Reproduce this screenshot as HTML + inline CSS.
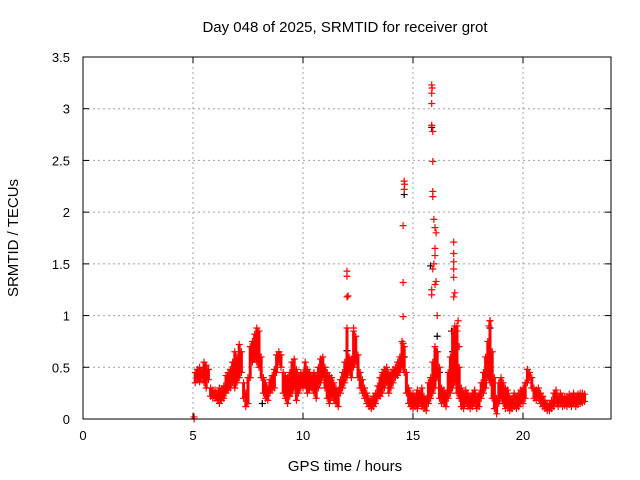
<!DOCTYPE html>
<html><head><meta charset="utf-8"><style>
body{margin:0;background:#fff;}
svg{display:block;font-family:"Liberation Sans",sans-serif;}
</style></head><body>
<svg id="chart" width="640" height="480" viewBox="0 0 640 480">
<rect width="640" height="480" fill="#fff"/>
<text x="345" y="32" font-size="15" text-anchor="middle">Day 048 of 2025, SRMTID for receiver grot</text>
<text x="345" y="471" font-size="15" text-anchor="middle">GPS time / hours</text>
<text transform="translate(18,238) rotate(-90)" font-size="15" text-anchor="middle">SRMTID / TECUs</text>
<g id="grid"></g><g id="marks"></g><g id="axes"></g>
</svg>
<script>
const xTicks=[0,5,10,15,20];
const yTicks=[0,0.5,1,1.5,2,2.5,3,3.5];
const yTickLabels=["0","0.5","1","1.5","2","2.5","3","3.5"];
const times=[5.1,5.2,5.3,5.4,5.5,5.6,5.7,5.8,5.9,
6.0,6.1,6.2,6.3,6.4,6.5,6.6,6.7,6.8,6.9,
7.0,7.1,7.2,7.3,7.4,7.5,7.6,7.7,7.8,7.9,
8.0,8.1,8.2,8.3,8.4,8.5,8.6,8.7,8.8,8.9,
9.0,9.1,9.2,9.3,9.4,9.5,9.6,9.7,9.8,9.9,
10.0,10.1,10.2,10.3,10.4,10.5,10.6,10.7,10.8,10.9,
11.0,11.1,11.2,11.3,11.4,11.5,11.6,11.7,11.8,11.9,
12.0,12.1,12.2,12.3,12.4,12.5,12.6,12.7,12.8,12.9,
13.0,13.1,13.2,13.3,13.4,13.5,13.6,13.7,13.8,13.9,
14.0,14.1,14.2,14.3,14.4,14.5,14.6,14.7,14.8,14.9,
15.0,15.1,15.2,15.3,15.4,15.5,15.6,15.7,15.8,15.9,
16.0,16.1,16.2,16.3,16.4,16.5,16.6,16.7,16.8,16.9,
17.0,17.1,17.2,17.3,17.4,17.5,17.6,17.7,17.8,17.9,
18.0,18.1,18.2,18.3,18.4,18.5,18.6,18.7,18.8,18.9,
19.0,19.1,19.2,19.3,19.4,19.5,19.6,19.7,19.8,19.9,
20.0,20.1,20.2,20.3,20.4,20.5,20.6,20.7,20.8,20.9,
21.0,21.1,21.2,21.3,21.4,21.5,21.6,21.7,21.8,21.9,
22.0,22.1,22.2,22.3,22.4,22.5,22.6,22.7,22.8];
const lowValues=[.35,.38,.36,.40,.35,.30,.38,.22,.20,
.20,.18,.15,.18,.20,.25,.28,.30,.35,.30,
.35,.40,.45,.20,.12,.15,.40,.55,.58,.55,
.50,.40,.25,.20,.18,.25,.28,.30,.45,.55,
.50,.25,.20,.15,.22,.25,.30,.18,.25,.30,
.30,.32,.25,.28,.30,.25,.20,.30,.35,.40,
.30,.20,.15,.22,.18,.15,.12,.25,.30,.35,
.40,.45,.40,.50,.55,.40,.30,.25,.20,.15,
.12,.10,.12,.15,.20,.22,.25,.30,.35,.25,
.30,.35,.40,.42,.45,.50,.45,.25,.15,.12,
.10,.12,.10,.15,.12,.10,.08,.15,.20,.25,
.30,.40,.20,.15,.15,.12,.20,.25,.30,.35,
.25,.20,.12,.10,.15,.12,.10,.12,.15,.10,
.12,.20,.25,.30,.40,.35,.20,.10,.05,.15,
.20,.15,.10,.12,.08,.10,.12,.10,.12,.15,
.15,.20,.35,.40,.30,.20,.18,.20,.15,.12,
.10,.08,.08,.10,.12,.15,.12,.15,.12,.13,
.12,.14,.12,.15,.12,.14,.15,.16,.17];
const highValues=[.45,.48,.50,.47,.55,.52,.48,.30,.28,
.28,.25,.30,.28,.32,.42,.45,.48,.55,.65,
.60,.72,.65,.35,.25,.40,.70,.75,.82,.88,
.85,.60,.40,.35,.30,.38,.42,.48,.62,.65,
.62,.45,.42,.40,.45,.55,.58,.48,.42,.45,
.45,.55,.48,.45,.42,.45,.42,.50,.58,.60,
.50,.45,.42,.40,.35,.30,.28,.38,.45,.55,
.88,.60,.58,.85,.80,.62,.45,.38,.30,.25,
.20,.18,.22,.25,.32,.40,.45,.48,.50,.45,
.45,.48,.50,.55,.60,.75,.70,.45,.30,.25,
.25,.22,.28,.25,.30,.22,.20,.35,.40,.55,
.70,.65,.50,.30,.28,.25,.45,.60,.85,.90,
.90,.50,.30,.25,.28,.25,.22,.25,.28,.22,
.25,.35,.45,.60,.75,.95,.65,.40,.20,.35,
.40,.35,.30,.28,.22,.20,.25,.22,.25,.28,
.30,.35,.48,.45,.40,.30,.28,.30,.25,.22,
.18,.15,.15,.18,.25,.28,.22,.25,.22,.22,
.22,.24,.22,.25,.22,.24,.25,.25,.24];
const spikeTimes=[5.05,5.05,12.0,12.0,12.0,12.05,12.3,14.55,14.6,14.62,14.6,14.55,14.55,14.55,15.85,15.87,15.85,15.85,15.85,15.9,15.9,15.9,15.9,15.95,16.0,16.05,16.0,16.0,15.95,15.9,16.05,16.0,15.85,15.85,16.1,16.1,16.85,16.85,16.85,16.85,16.85,16.9,16.85,17.05,17.0,17.1,18.45,18.5];
const spikeValues=[0.0,0.02,1.43,1.38,1.18,1.19,0.88,1.87,2.3,2.27,2.22,1.32,0.99,0.73,3.23,3.2,3.15,3.05,2.84,2.78,2.49,2.2,2.15,1.93,1.85,1.8,1.65,1.58,1.5,1.45,1.33,1.3,1.25,1.2,1.0,0.65,1.71,1.6,1.52,1.45,1.37,1.22,1.18,0.95,0.85,0.7,0.9,0.95];
const blackTimes=[14.6,15.85,15.8,16.1,12.0,16.75,16.8,18.5,8.15,14.6,16.2];
const blackValues=[2.17,2.82,1.48,0.8,0.66,0.85,0.65,0.88,0.15,0.6,0.45];

const L=83,R=611,T=57,B=419,XMAX=24,YMAX=3.5;
const xs=v=>L+(R-L)*v/XMAX, ys=v=>B-(B-T)*v/YMAX;
const NS="http://www.w3.org/2000/svg";
function mk(tag,attrs,parent){const e=document.createElementNS(NS,tag);for(const k in attrs)e.setAttribute(k,attrs[k]);parent.appendChild(e);return e;}
const grid=document.getElementById('grid'),marks=document.getElementById('marks'),axes=document.getElementById('axes');
xTicks.forEach(t=>{const x=xs(t);
 if(t>0){const g=mk('line',{x1:x,x2:x,y1:T,y2:B,stroke:'#a0a0a0','stroke-dasharray':'2,3'},grid);
 
 }
 mk('line',{x1:x,x2:x,y1:B,y2:B-6,stroke:'#000'},axes);
 mk('line',{x1:x,x2:x,y1:T,y2:T+6,stroke:'#000'},axes);
 const tx=mk('text',{x:x,y:B+21,'font-size':13,'text-anchor':'middle'},axes);tx.textContent=t;
 
 });
yTicks.forEach((t,i)=>{const y=ys(t);
 if(t>0&&t<YMAX){const g=mk('line',{x1:L,x2:R,y1:y,y2:y,stroke:'#a0a0a0','stroke-dasharray':'2,3'},grid);
 
 }
 mk('line',{x1:L,x2:L+6,y1:y,y2:y,stroke:'#000'},axes);
 mk('line',{x1:R,x2:R-6,y1:y,y2:y,stroke:'#000'},axes);
 const tx=mk('text',{x:L-13,y:y+5,'font-size':13,'text-anchor':'end'},axes);tx.textContent=yTickLabels[i];
 
 });
const frame=mk('rect',{x:L,y:T,width:R-L,height:B-T,fill:'none',stroke:'#000'},axes);


function plus(t,v,col){const x=xs(t),y=ys(v);
 const p=mk('path',{d:`M${x-3.5} ${y}h7M${x} ${y-3.5}v7`,stroke:col,'stroke-width':1.2},marks);
 
 }
blackTimes.forEach((t,i)=>plus(t,blackValues[i],'#000'));
times.forEach((t,i)=>{
 const b=mk('line',{x1:xs(t),x2:xs(t),y1:ys(lowValues[i]),y2:ys(highValues[i]),stroke:'#f00','stroke-width':3},marks);
 
 
 plus(t,lowValues[i],'#f00');plus(t,highValues[i],'#f00');});
spikeTimes.forEach((t,i)=>plus(t,spikeValues[i],'#f00'));
</script>
</body></html>
